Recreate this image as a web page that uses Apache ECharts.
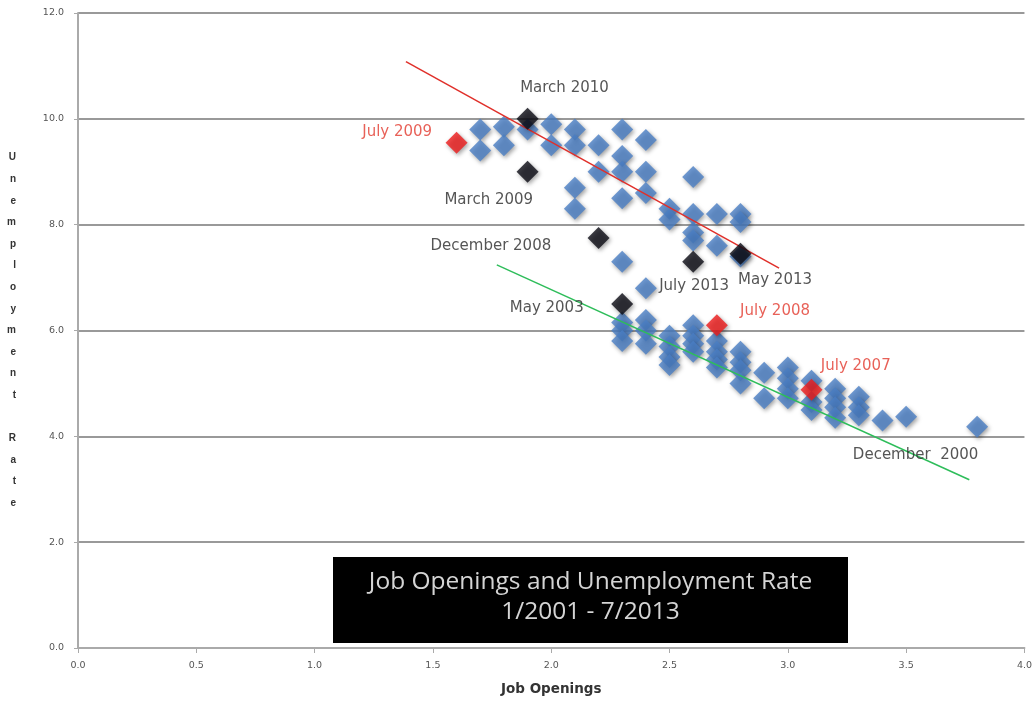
<!DOCTYPE html>
<html><head><meta charset="utf-8">
<script src="https://cdn.jsdelivr.net/npm/echarts@6/dist/echarts.min.js"></script>
<style>html,body{margin:0;padding:0;background:#fff}#c{width:1035px;height:705px}</style>
</head><body><div id="c"></div>
<script>
// Blue points: [job openings, unemployment rate]
const blueX = [1.7,1.7,1.8,1.8,1.9,2.0,2.0,2.1,2.1,2.1,2.1,2.2,2.2,2.3,2.3,2.3,2.3,2.3,2.4,2.4,2.4,2.4,2.5,2.5,2.6,2.6,2.6,2.6,2.7,2.7,2.8,2.8,2.8,
  2.3,2.3,2.3,2.4,2.4,2.4,2.5,2.5,2.5,2.5,2.6,2.6,2.6,2.6,2.7,2.7,2.7,2.7,2.8,2.8,2.8,2.8,2.9,2.9,3.0,3.0,3.0,3.0,3.1,3.1,3.1,3.2,3.2,3.2,3.2,3.3,3.3,3.3,3.4,3.5,3.8];
const blueY = [9.8,9.4,9.85,9.5,9.8,9.9,9.5,9.8,9.5,8.7,8.3,9.5,9.0,9.8,9.3,9.0,8.5,7.3,9.6,9.0,8.6,6.8,8.3,8.1,8.9,8.2,7.85,7.7,8.2,7.6,8.2,8.05,7.4,
  6.15,6.0,5.8,6.2,6.0,5.75,5.9,5.7,5.5,5.35,6.1,5.9,5.75,5.6,5.8,5.6,5.45,5.3,5.6,5.4,5.25,5.0,5.2,4.72,5.3,5.1,4.9,4.72,5.05,4.65,4.5,4.9,4.72,4.55,4.35,4.75,4.55,4.4,4.3,4.37,4.18];
const blackX = [1.9,1.9,2.2,2.3,2.6,2.8];
const blackY = [10.0,9.0,7.75,6.5,7.3,7.45];
const redX = [1.6,2.7,3.1];
const redY = [9.55,6.1,4.88];
// Trend lines endpoints
const redTrendX = [1.386,2.963];
const redTrendY = [11.08,7.18];
const greenTrendX = [1.77,3.767];
const greenTrendY = [7.24,3.18];
// Annotations
const noteText = ['March 2010','July 2009','March 2009','December 2008','July 2013','May 2013','May 2003','July 2008','July 2007','December  2000'];
const noteX = [2.056,1.349,1.736,1.745,2.604,2.946,1.981,2.946,3.287,3.54];
const noteY = [10.59,9.75,8.47,7.60,6.84,6.96,6.43,6.37,5.33,3.65];
const noteRed = [false,true,false,false,false,false,false,true,true,false];
// Axis ticks
const xTicks = ['0.0','0.5','1.0','1.5','2.0','2.5','3.0','3.5','4.0'];
const yTicks = ['0.0','2.0','4.0','6.0','8.0','10.0','12.0'];
const titleLines = ['Job Openings and Unemployment Rate','1/2001 - 7/2013'];
const yTitle = 'Unemployment Rate';
const xTitle = 'Job Openings';

const zip = (a,b)=>a.map((v,i)=>[v,b[i]]);
const chart = echarts.init(document.getElementById('c'));
const diamond = (color)=>({
  color: color,
  shadowColor: 'rgba(0,0,0,0.45)', shadowBlur: 4, shadowOffsetX: 1.5, shadowOffsetY: 2
});
chart.setOption({
  animation:false,
  backgroundColor:'#fff',
  graphic:[
    {type:'rect',left:333,top:557,shape:{width:515,height:86},style:{fill:'#000'},z:10},
    {type:'text',x:590.5,y:567,z:11,
      style:{text:titleLines.join('\n'),fill:'#d4d4d4',font:'24.5px "Open Sans"',lineHeight:30,textAlign:'center',textVerticalAlign:'top'}}
  ],
  grid:{left:78,right:8,top:13,bottom:57},
  xAxis:{
    type:'value',min:0,max:4,interval:0.5,
    name:xTitle,nameLocation:'middle',nameGap:34,
    nameTextStyle:{fontFamily:'DejaVu Sans',fontWeight:'bold',fontSize:13.5,color:'#333'},
    axisLine:{show:true,lineStyle:{color:'#aaa',width:2}},
    axisTick:{show:true,length:5,lineStyle:{color:'#aaa'}},
    axisLabel:{fontFamily:'DejaVu Sans',fontSize:9.5,color:'#555',margin:13,formatter:(v)=>xTicks[Math.round(v*2)]},
    splitLine:{show:false}
  },
  yAxis:{
    type:'value',min:0,max:12,interval:2,
    name:yTitle.split('').join('\n'),nameLocation:'middle',nameGap:62,nameRotate:0,
    nameTextStyle:{fontFamily:'Liberation Sans',fontWeight:'bold',fontSize:10,lineHeight:21.6,color:'#333'},
    axisLine:{show:true,lineStyle:{color:'#aaa',width:2}},
    axisTick:{show:true,length:4,inside:false,lineStyle:{color:'#aaa'}},
    axisLabel:{fontFamily:'DejaVu Sans',fontSize:9.5,color:'#555',margin:14,formatter:(v)=>yTicks[Math.round(v/2)]},
    splitLine:{show:true,lineStyle:{color:'#777',width:1.5}}
  },
  series:[
    {type:'line',data:zip(redTrendX,redTrendY),symbol:'none',lineStyle:{color:'#e0302a',width:1.5},z:3},
    {type:'line',data:zip(greenTrendX,greenTrendY),symbol:'none',lineStyle:{color:'#2ebd5a',width:1.5},z:3},
    {type:'scatter',data:zip(blueX,blueY),symbol:'diamond',symbolSize:[22,22],itemStyle:diamond('#4a7ec4'),z:2},
    {type:'scatter',data:zip(blackX,blackY),symbol:'diamond',symbolSize:[22,22],itemStyle:diamond('#0b0b14'),z:4},
    {type:'scatter',data:zip(redX,redY),symbol:'diamond',symbolSize:[22,22],itemStyle:diamond('#ee1c1c'),z:5},
    {type:'scatter',symbolSize:0,silent:true,z:6,
      data:noteText.map((t,i)=>({value:[noteX[i],noteY[i]],name:t,
        label:{color:noteRed[i]?'#e23a2e':'#2a2a2a'}})),
      label:{show:true,position:'inside',formatter:(p)=>p.name,fontFamily:'DejaVu Sans',fontSize:15}
    }
  ]
});
</script></body></html>
